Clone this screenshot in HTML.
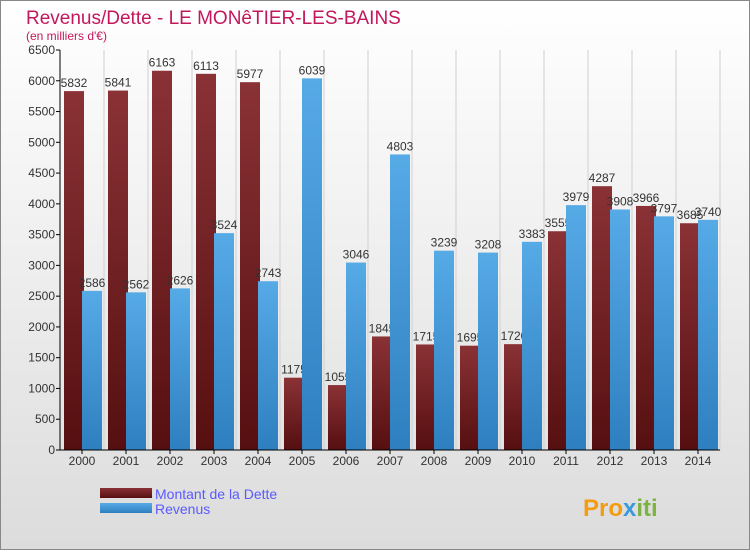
<!DOCTYPE html>
<html><head><meta charset="utf-8"><style>
body{margin:0;width:750px;height:550px;overflow:hidden;font-family:"Liberation Sans",sans-serif}
</style></head><body>
<svg id="c" width="750" height="550" xmlns="http://www.w3.org/2000/svg">
<defs>
<linearGradient id="bg" x1="0" y1="0" x2="0" y2="1"><stop offset="0" stop-color="#ffffff"/><stop offset="1" stop-color="#dcdcdc"/></linearGradient>
<linearGradient id="gd" x1="0" y1="0" x2="0" y2="1"><stop offset="0" stop-color="#8a3236"/><stop offset="1" stop-color="#560f10"/></linearGradient>
<linearGradient id="gr" x1="0" y1="0" x2="0" y2="1"><stop offset="0" stop-color="#56aae6"/><stop offset="1" stop-color="#2e7fbf"/></linearGradient>
</defs>
<rect x="0.5" y="0.5" width="749" height="549" fill="url(#bg)" stroke="#888"/>
<text x="26" y="24" font-size="19" fill="#c2185b">Revenus/Dette - LE MONêTIER-LES-BAINS</text>
<text x="26" y="40" font-size="12" fill="#c2185b">(en milliers d'€)</text>
<g id="plot"></g>
<rect x="100" y="488" width="52" height="10" fill="url(#gd)"/>
<rect x="100" y="503" width="52" height="10" fill="url(#gr)"/>
<text x="155" y="499" font-size="14" fill="#5a5aff">Montant de la Dette</text>
<text x="155" y="514" font-size="14" fill="#5a5aff">Revenus</text>
<text x="583" y="516" font-size="24" font-weight="bold" fill="#f39c12">Pro<tspan fill="#3a9ad9">x</tspan><tspan fill="#7cb342">iti</tspan></text>
</svg>
<script>
const years=["2000","2001","2002","2003","2004","2005","2006","2007","2008","2009","2010","2011","2012","2013","2014"];
const dette=[5832,5841,6163,6113,5977,1175,1055,1845,1715,1695,1720,3555,4287,3966,3685];
const revenus=[2586,2562,2626,3524,2743,6039,3046,4803,3239,3208,3383,3979,3908,3797,3740];
const ticks=[0,500,1000,1500,2000,2500,3000,3500,4000,4500,5000,5500,6000,6500];
const NS="http://www.w3.org/2000/svg",g=document.getElementById('plot');
const y=v=>450-v*400/6500, gx=i=>62+i*44;
function el(t,a,txt){const e=document.createElementNS(NS,t);for(const k in a)e.setAttribute(k,a[k]);if(txt!=null)e.textContent=txt;g.appendChild(e);return e;}
years.forEach((yr,i)=>{
 const l=el('line',{x1:gx(i)+42,x2:gx(i)+42,y1:50,y2:450,stroke:'#d0d0d0'});
 
 
});
ticks.forEach(t=>{
 const l=el('line',{x1:56,x2:60,y1:y(t),y2:y(t),stroke:'#000'});
 
 
 const tx=el('text',{x:55,y:y(t)+4,'font-size':12,fill:'#333','text-anchor':'end'},t);
 
 
});
years.forEach((yr,i)=>{
 const b=el('rect',{x:gx(i)+2,y:y(dette[i]),width:20,height:450-y(dette[i]),fill:'url(#gd)'});
 
 
 const t=el('text',{x:gx(i)+12,y:y(dette[i])-4,'font-size':12,fill:'#333','text-anchor':'middle'},dette[i]);
 
 
});
years.forEach((yr,i)=>{
 const b=el('rect',{x:gx(i)+20,y:y(revenus[i]),width:20,height:450-y(revenus[i]),fill:'url(#gr)'});
 
 
 const t=el('text',{x:gx(i)+30,y:y(revenus[i])-4,'font-size':12,fill:'#333','text-anchor':'middle'},revenus[i]);
 
 
 const lt=el('line',{x1:gx(i)+20,x2:gx(i)+20,y1:450,y2:454,stroke:'#000'});
 
 
 const xl=el('text',{x:gx(i)+20,y:465,'font-size':12,fill:'#333','text-anchor':'middle'},yr);
 
 
});
const ax=el('line',{x1:60,x2:60,y1:50,y2:450,stroke:'#000'});


const bx=el('line',{x1:60,x2:720,y1:450,y2:450,stroke:'#000'});


</script>
</body></html>
